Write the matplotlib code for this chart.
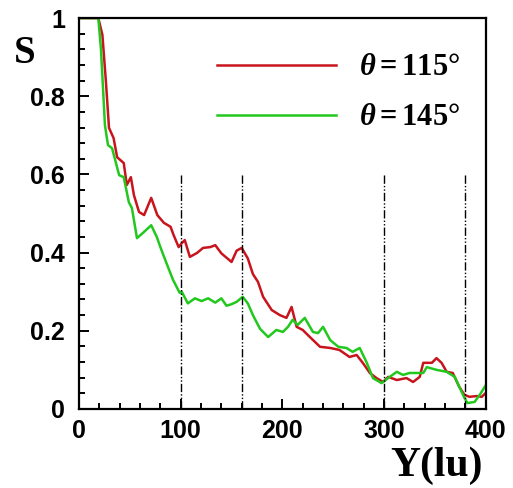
import numpy as np
import matplotlib.pyplot as plt
from matplotlib.ticker import MultipleLocator, FuncFormatter

plt.rcParams["font.family"] = ["Liberation Sans", "DejaVu Sans"]
plt.rcParams["mathtext.fontset"] = "custom"
plt.rcParams["mathtext.rm"] = "Liberation Serif:bold"
plt.rcParams["mathtext.it"] = "Liberation Serif:italic:bold"

# theta = 115 deg
red_y = [0, 19, 23, 26.5, 29.5, 34, 37.5, 44, 47, 51, 54, 59, 64, 71, 77, 83.5, 90, 93, 98, 101,
         104, 109, 116, 122, 129, 134, 140, 150, 155, 160, 166, 171, 176, 181, 189.5, 197.5, 204,
         209, 214, 220, 227, 237, 247, 256, 266, 273, 279, 286, 292.5, 299, 304, 312.5, 322,
         328.5, 335, 338.5, 347, 351.5, 356.5, 361.5, 367.5, 374, 379, 384, 391, 396, 400]
red_s = [1.0, 1.0, 0.957, 0.836, 0.719, 0.693, 0.644, 0.629, 0.573, 0.593, 0.547, 0.504, 0.496,
         0.54, 0.496, 0.476, 0.466, 0.445, 0.414, 0.424, 0.432, 0.389, 0.399, 0.412, 0.414, 0.419,
         0.398, 0.376, 0.405, 0.412, 0.385, 0.345, 0.325, 0.287, 0.253, 0.24, 0.233, 0.261, 0.21,
         0.202, 0.184, 0.159, 0.156, 0.151, 0.133, 0.138, 0.118, 0.092, 0.079, 0.069, 0.082,
         0.074, 0.079, 0.069, 0.082, 0.118, 0.118, 0.13, 0.118, 0.095, 0.092, 0.056, 0.036,
         0.031, 0.033, 0.031, 0.041]

# theta = 145 deg
green_y = [0, 19, 21.6, 25.5, 28.5, 32.5, 39.5, 44, 49, 52, 57, 64, 71, 76.5, 80, 86, 92.5, 99,
           101, 107, 114, 120.5, 127, 134, 140, 145, 150, 155, 161, 166, 171, 178, 186, 194,
           200.5, 205.5, 210, 215, 222, 230, 235, 240, 247, 255, 263, 269, 276, 283, 289, 297.5,
           305.5, 312.5, 318.5, 325, 332, 338.5, 342, 351.5, 361.5, 369.5, 374, 379, 382, 389,
           394, 400]
green_s = [1.0, 1.0, 0.92, 0.726, 0.675, 0.667, 0.598, 0.593, 0.529, 0.514, 0.437, 0.453, 0.47,
           0.44, 0.414, 0.373, 0.33, 0.297, 0.30, 0.27, 0.283, 0.276, 0.283, 0.272, 0.283, 0.264,
           0.268, 0.274, 0.287, 0.27, 0.24, 0.205, 0.184, 0.202, 0.197, 0.21, 0.228, 0.215, 0.233,
           0.197, 0.194, 0.21, 0.176, 0.159, 0.156, 0.146, 0.156, 0.118, 0.079, 0.066, 0.082,
           0.095, 0.087, 0.092, 0.092, 0.092, 0.107, 0.1, 0.095, 0.082, 0.056, 0.028, 0.015,
           0.018, 0.036, 0.061]

vlines_y = [100, 160, 300, 380]
vline_top = 0.6

fig = plt.figure(figsize=(5.13, 4.88), dpi=100)
ax = fig.add_axes([0.154, 0.162, 0.793, 0.801])

ax.plot(red_y, red_s, color="#c8141c", lw=1.8, label=r"$\theta = 115°$")
ax.plot(green_y, green_s, color="#22c81e", lw=1.8, label=r"$\theta = 145°$")
ax.vlines(vlines_y, 0, vline_top, colors="black", lw=1.0, linestyles=(0, (6, 1.5, 1, 1.5, 1, 1.5)))

ax.set_xlim(0, 400)
ax.set_ylim(0, 1)
ax.xaxis.set_major_locator(MultipleLocator(100))
ax.xaxis.set_minor_locator(MultipleLocator(20))
ax.yaxis.set_major_locator(MultipleLocator(0.2))
ax.yaxis.set_minor_locator(MultipleLocator(0.04))
ax.yaxis.set_major_formatter(FuncFormatter(lambda v, p: f"{v:g}"))
ax.tick_params(which="both", direction="in", top=False, right=False, width=1.4)
ax.tick_params(which="major", length=7, labelsize=18)
ax.tick_params(which="minor", length=4)
ax.tick_params(axis="y", pad=10)
ax.tick_params(axis="x", pad=7)
for lab in ax.get_xticklabels() + ax.get_yticklabels():
    lab.set_fontweight("bold")
for sp in ax.spines.values():
    sp.set_linewidth(1.6)

ax.set_ylabel("S", rotation=0, family="Liberation Serif", fontweight="bold", fontsize=28,
              ha="center", va="center")
ax.yaxis.set_label_coords(-0.133, 0.91)
ax.set_xlabel("Y(lu)", family="Liberation Serif", fontweight="bold", fontsize=30,
              ha="center", va="center")
ax.xaxis.set_label_coords(0.88, -0.146)

ax.legend(loc="upper left", bbox_to_anchor=(0.34, 0.912), frameon=False, fontsize=22,
          handlelength=3.9, handletextpad=0.75, labelspacing=0.65, borderpad=0, borderaxespad=0)

fig.savefig("out.png", dpi=100)
